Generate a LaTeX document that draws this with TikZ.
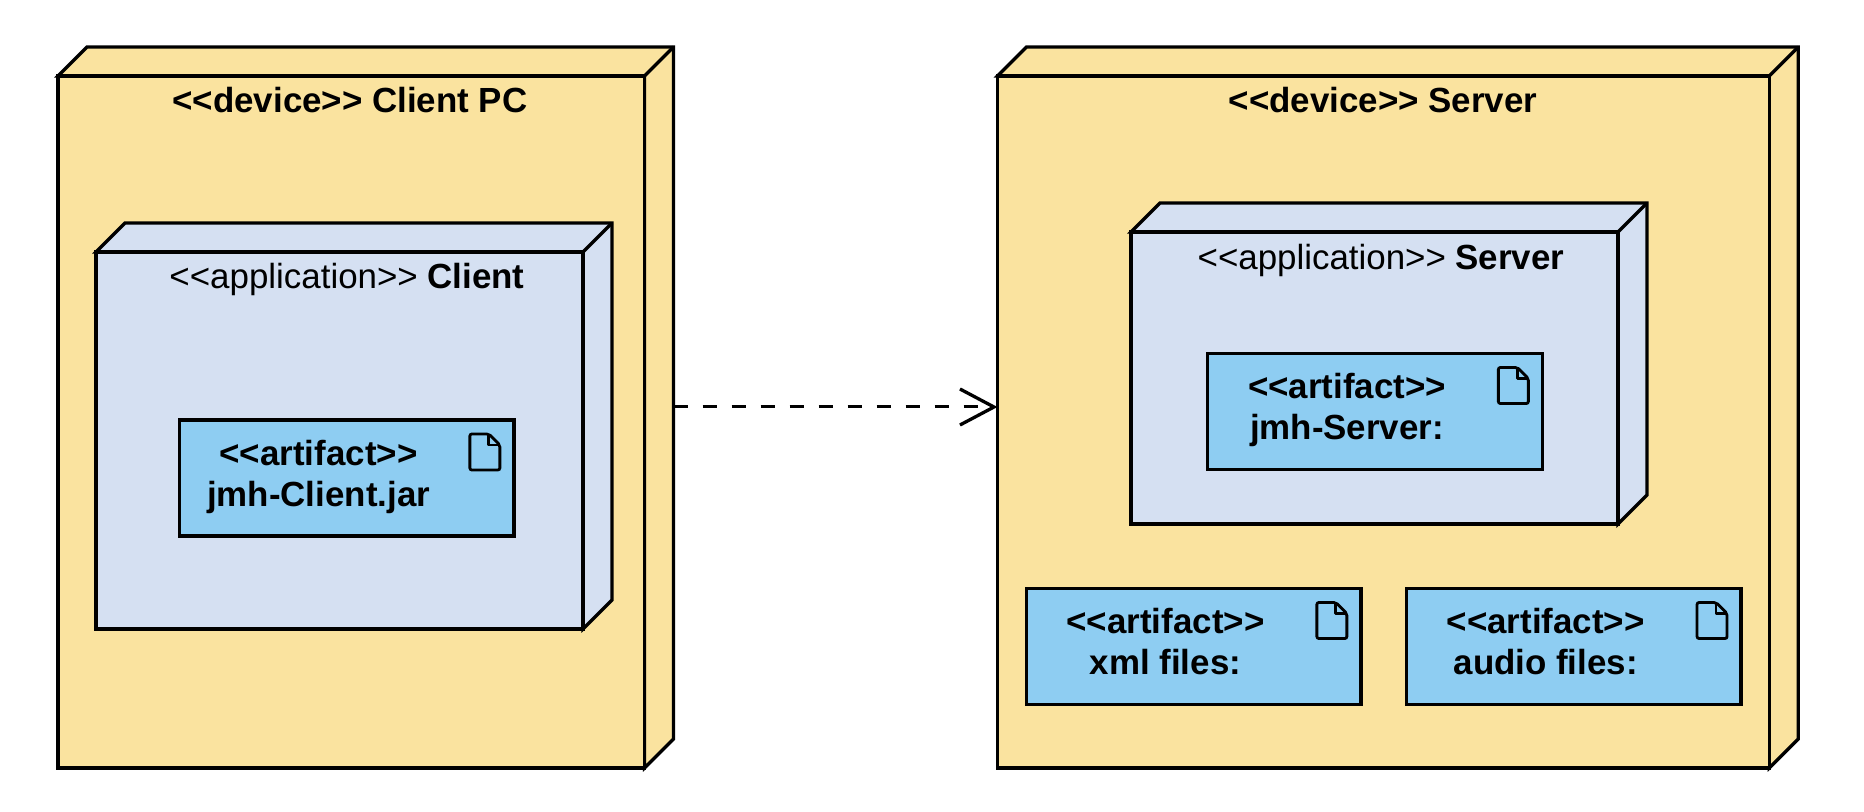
\documentclass[tikz,border=0pt]{standalone}
\usepackage{fontspec}
\setmainfont{Liberation Sans}
\usetikzlibrary{arrows.meta,positioning}

\definecolor{devicefill}{HTML}{FAE39F}
\definecolor{appfill}{HTML}{D5E0F2}
\definecolor{artifactfill}{HTML}{8ECDF2}

\newcommand{\stereo}[1]{<{}<#1>{}>}
\newcommand{\labelfont}{\fontsize{17.45}{20.5}\selectfont}

\tikzset{
  box3d/.style={draw,fill=#1,outer sep=0pt,inner sep=0pt,
    append after command={\pgfextra{
      \filldraw[fill=#1]
        (\tikzlastnode.north west) -- ++(14.5pt,14.5pt) -- ([shift={(14.5pt,14.5pt)}]\tikzlastnode.north east)
        -- ([shift={(14.5pt,14.5pt)}]\tikzlastnode.south east) -- (\tikzlastnode.south east)
        -- (\tikzlastnode.north east) -- cycle;
      \draw (\tikzlastnode.north east) -- ++(14.5pt,14.5pt);
    }}},
  artifactbox/.style={draw,fill=artifactfill,outer sep=0pt,inner sep=0pt,minimum height=58pt},
  title/.style={anchor=base,inner sep=0pt,font=\labelfont\bfseries},
  artifacttext/.style={align=center,inner sep=0pt,font=\labelfont\bfseries,xshift=-14pt,yshift=-0.6pt,
    execute at end node=\strut},
  pics/fileicon/.style={code={
    \draw[line width=1.4pt,rounded corners=1pt] (-44,14) -- (-25,14) -- (-14,25) -- (-14,50) -- (-44,50) -- cycle;
    \draw[line width=1.4pt,line join=round] (-25,14) -- (-25,25) -- (-14,25);
  }}
}

\begin{document}
\begin{tikzpicture}[x=0.5pt,y=-0.5pt,line width=1.65pt,node distance=22.75pt]
  \useasboundingbox (0,0) rectangle (1864,812);

  \node[box3d=devicefill,minimum width=293.25pt,minimum height=346pt] (client) at (351.25,422) {};
  \node[box3d=devicefill,minimum width=385.9pt,minimum height=346pt,right=176.5pt of client] (server) {};

  \node[box3d=appfill,minimum width=243.5pt,minimum height=188.5pt] (clientapp) at (339.5,440.5) {};
  \node[box3d=appfill,minimum width=243.5pt,minimum height=146pt] (serverapp) at (1374.5,378) {};

  \node[title] (clienttitle) at (350,113) {\stereo{device} Client PC};
  \node[title] (servertitle) at (1383,113) {\stereo{device} Server};
  \node[title] (clientapptitle) at (347,289) {\textmd{\stereo{application}} Client};
  \node[title] (serverapptitle) at (1381,270) {\textmd{\stereo{application}} Server};

  \node[artifactbox,minimum width=167.35pt] (jarbox) at (346.5,478) {};
  \node[artifactbox,minimum width=167.35pt] (serverbox) at (1375,411.5) {};
  \node[artifactbox,minimum width=167.35pt] (xmlbox) at (1193.5,646.5) {};
  \node[artifactbox,minimum width=167.35pt,right=of xmlbox] (audiobox) {};

  \node[artifacttext] (jartext) at (jarbox.center) {\stereo{artifact}\\jmh-Client.jar};
  \node[artifacttext] (servertext) at (serverbox.center) {\stereo{artifact}\\jmh-Server:};
  \node[artifacttext] (xmltext) at (xmlbox.center) {\stereo{artifact}\\xml files:};
  \node[artifacttext] (audiotext) at (audiobox.center) {\stereo{artifact}\\audio files:};

  \foreach \artbox in {jarbox,serverbox,xmlbox,audiobox}
    \pic at (\artbox.north east) {fileicon};

  \draw[line width=1.5pt,dash pattern=on 7.25pt off 7.25pt,-{Straight Barb[length=17pt,width=18pt,line width=1.65pt]}]
    ([shift={(14.5pt,7.5pt)}]client.east) -- ([yshift=7.5pt]server.west);
\end{tikzpicture}
\end{document}
